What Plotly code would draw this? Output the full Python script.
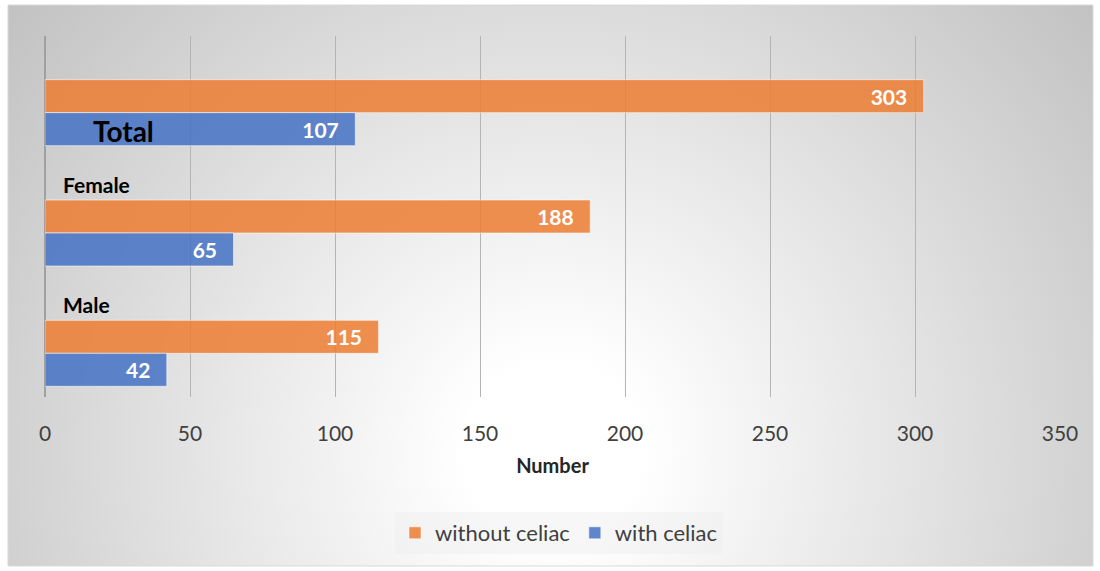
import base64
import plotly.graph_objects as go

categories = ["Male", "Female", "Total"]
without_celiac = [115, 188, 303]
with_celiac = [42, 65, 107]
series_names = ["without celiac", "with celiac"]
x_ticks = [0, 50, 100, 150, 200, 250, 300, 350]

W, H = 1100, 571
FONT = "Lato"

svg = (
    "<svg xmlns='http://www.w3.org/2000/svg' width='1085' height='561' viewBox='0 0 1085 561' preserveAspectRatio='none'>"
    "<defs><radialGradient id='g' gradientUnits='userSpaceOnUse' cx='545' cy='445' r='720'>"
    "<stop offset='0' stop-color='#ffffff'/>"
    "<stop offset='0.12' stop-color='#ffffff'/>"
    "<stop offset='1' stop-color='#c0c0c0'/>"
    "</radialGradient></defs>"
    "<rect x='0' y='0' width='1085' height='561' fill='url(#g)'/></svg>"
)
bg_uri = "data:image/svg+xml;base64," + base64.b64encode(svg.encode()).decode()

bw = 33 / 120.33  # bar thickness in category units

fig = go.Figure()
fig.add_trace(go.Bar(
    y=categories, x=without_celiac, orientation="h", name=series_names[0],
    width=bw, offset=-bw / 2,
    marker=dict(color="rgba(237,125,49,0.85)", line=dict(color="rgba(255,255,255,0.55)", width=1)),
    text=[f"{v}\u2007\u200a" for v in without_celiac], textposition="inside", insidetextanchor="end",
    textfont=dict(family=FONT, size=21, color="white", weight="bold"),
    cliponaxis=False,
))
fig.add_trace(go.Bar(
    y=categories, x=with_celiac, orientation="h", name=series_names[1],
    width=bw, offset=-bw * 1.5,
    marker=dict(color="rgba(68,114,196,0.85)", line=dict(color="rgba(255,255,255,0.55)", width=1)),
    text=[f"{v}\u2007\u200a" for v in with_celiac], textposition="inside", insidetextanchor="end",
    textfont=dict(family=FONT, size=21, color="white", weight="bold"),
    cliponaxis=False,
))

# category labels
label_pos = {"Total": (16.0, 1.71, 28), "Female": (5.4, 1.262, 21), "Male": (5.4, 0.266, 21)}
for name in categories:
    xx, yy, sz = label_pos[name]
    fig.add_annotation(x=xx, y=yy, xref="x", yref="y", text=f"<b>{name}</b>", showarrow=False,
                       xanchor="left", yanchor="middle",
                       font=dict(family=FONT, size=sz, color="#000000"))

fig.update_layout(
    width=W, height=H,
    margin=dict(l=0, r=0, t=0, b=0, autoexpand=False),
    paper_bgcolor="white", plot_bgcolor="rgba(0,0,0,0)",
    barmode="overlay",
    showlegend=True,
    legend=dict(orientation="h", x=559 / W, xanchor="center", y=1 - 512 / H, yanchor="top",
                bgcolor="rgba(238,238,238,0.45)", font=dict(family=FONT, size=22, color="#404040"),
                itemwidth=30, traceorder="normal"),
    images=[dict(source=bg_uri, xref="paper", yref="paper", x=8 / W, y=1 - 5 / H,
                 sizex=1085 / W, sizey=561 / H, sizing="stretch", layer="below", xanchor="left", yanchor="top")],
    shapes=[dict(type="rect", xref="paper", yref="paper", x0=8 / W, x1=1093 / W, y0=1 - 566 / H, y1=1 - 5 / H,
                 line=dict(color="#d9d9d9", width=1), layer="below")],
    xaxis=dict(domain=[45 / W, 1060 / W], range=[0, 350], tickvals=x_ticks, automargin=False,
               showgrid=True, gridcolor="#b4b4b4", gridwidth=1,
               zeroline=True, zerolinecolor="#a0a0a0", zerolinewidth=2,
               showline=False, ticks="", ticklabelstandoff=22,
               tickfont=dict(family=FONT, size=21, color="#404040"),
               title=dict(text="<b>Number</b>", font=dict(family=FONT, size=20, color="#262626"), standoff=14)),
    yaxis=dict(domain=[1 - 397 / H, 1 - 36 / H], type="category", categoryorder="array", automargin=False,
               categoryarray=categories, range=[-0.5, 2.5], showticklabels=False,
               showgrid=False, zeroline=False, showline=False, ticks=""),
)

fig.write_html("out.html")
